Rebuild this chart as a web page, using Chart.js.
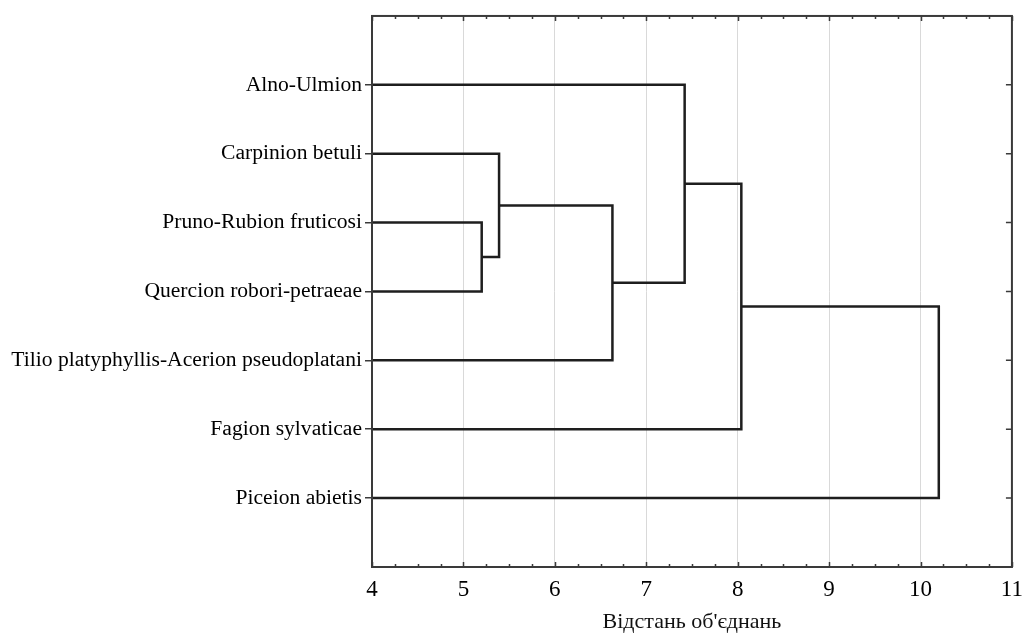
<!DOCTYPE html>
<html>
<head>
<meta charset="utf-8">
<script src="https://cdn.jsdelivr.net/npm/chart.js@4.4.1/dist/chart.umd.min.js"></script>
<style>
  html, body { margin: 0; padding: 0; background: #fff; }
  #wrap { width: 1032px; height: 635px; }
</style>
</head>
<body>
<div id="wrap"><canvas id="dendro" width="1032" height="635"></canvas></div>
<script>
// Leaves top to bottom
const leafNames = [
    "Alno-Ulmion",
    "Carpinion betuli",
    "Pruno-Rubion fruticosi",
    "Quercion robori-petraeae",
    "Tilio platyphyllis-Acerion pseudoplatani",
    "Fagion sylvaticae",
    "Piceion abietis"
];
// Merge steps: node ids 0..6 are leaves, 7.. are clusters in merge order
const mergeLeft = [2, 1, 8, 0, 10, 11];
const mergeRight = [3, 7, 4, 9, 5, 6];
const mergeDist = [5.2, 5.39, 6.63, 7.42, 8.04, 10.2];
const xTicks = [4, 5, 6, 7, 8, 9, 10, 11];
const axisTitle = "Відстань об'єднань";

const serif = "'Liberation Serif', 'Times New Roman', serif";
const lineColor = "#1e1e1e";
const frameColor = "#3a3a3a";

// Build link polylines from merges
const nodeX = [];
const nodeY = [];
leafNames.forEach((name, i) => {
    nodeX.push(xTicks[0]);
    nodeY.push(i + 1);
});

const links = [];
for (let k = 0; k < mergeDist.length; k++) {
    const a = mergeLeft[k];
    const b = mergeRight[k];
    const d = mergeDist[k];
    links.push({
        data: [
            { x: nodeX[a], y: nodeY[a] },
            { x: d, y: nodeY[a] },
            { x: d, y: nodeY[b] },
            { x: nodeX[b], y: nodeY[b] }
        ],
        showLine: true,
        borderColor: lineColor,
        borderWidth: 2.5,
        pointRadius: 0,
        tension: 0,
        fill: false
    });
    nodeX.push(d);
    nodeY.push((nodeY[a] + nodeY[b]) / 2);
}

// Frame with small inward ticks, like the original plot
const framePlugin = {
    id: "frame",
    afterDatasetsDraw(chart) {
        const ctx = chart.ctx;
        const area = chart.chartArea;
        const xs = chart.scales.x;
        const ys = chart.scales.y;
        ctx.save();
        ctx.strokeStyle = frameColor;
        ctx.lineWidth = 2;
        ctx.strokeRect(area.left, area.top, area.right - area.left, area.bottom - area.top);

        ctx.lineWidth = 1.5;
        ctx.beginPath();
        for (let v = xTicks[0]; v <= xTicks[xTicks.length - 1] + 1e-9; v += 0.25) {
            const px = Math.round(xs.getPixelForValue(v)) + 0.5;
            const len = Math.abs(v - Math.round(v)) < 1e-9 ? 5 : 3;
            ctx.moveTo(px, area.top);
            ctx.lineTo(px, area.top + len);
            ctx.moveTo(px, area.bottom);
            ctx.lineTo(px, area.bottom - len);
        }
        leafNames.forEach((name, i) => {
            const py = ys.getPixelForValue(i + 1);
            ctx.moveTo(area.right, py);
            ctx.lineTo(area.right - 6, py);
        });
        ctx.stroke();
        ctx.restore();
    }
};

new Chart(document.getElementById("dendro"), {
    type: "scatter",
    data: { datasets: links },
    plugins: [framePlugin],
    options: {
        responsive: false,
        animation: false,
        layout: { padding: { top: 14, right: 14, left: 0, bottom: 0 } },
        plugins: {
            legend: { display: false },
            tooltip: { enabled: false }
        },
        scales: {
            x: {
                type: "linear",
                min: 4,
                max: 11,
                afterBuildTicks: s => { s.ticks = xTicks.map(v => ({ value: v })); },
                afterFit: s => { s.height = 68; },
                ticks: {
                    color: "#000",
                    font: { family: serif, size: 23 },
                    padding: 9,
                    maxRotation: 0
                },
                grid: { color: "#d9d9d9", lineWidth: 1, drawTicks: false },
                border: { display: false },
                title: {
                    display: true,
                    text: axisTitle,
                    color: "#111",
                    font: { family: serif, size: 22 },
                    padding: { top: 2, bottom: 0 }
                }
            },
            y: {
                type: "linear",
                min: 0,
                max: 8,
                reverse: true,
                afterBuildTicks: s => { s.ticks = leafNames.map((n, i) => ({ value: i + 1 })); },
                afterFit: s => { s.width = 372; },
                ticks: {
                    color: "#000",
                    font: { family: serif, size: 21.6 },
                    padding: 3,
                    callback: v => leafNames[v - 1]
                },
                grid: {
                    drawOnChartArea: false,
                    drawTicks: true,
                    tickLength: 7,
                    color: frameColor,
                    lineWidth: 1.5
                },
                border: { display: false }
            }
        }
    }
});
</script>
</body>
</html>
